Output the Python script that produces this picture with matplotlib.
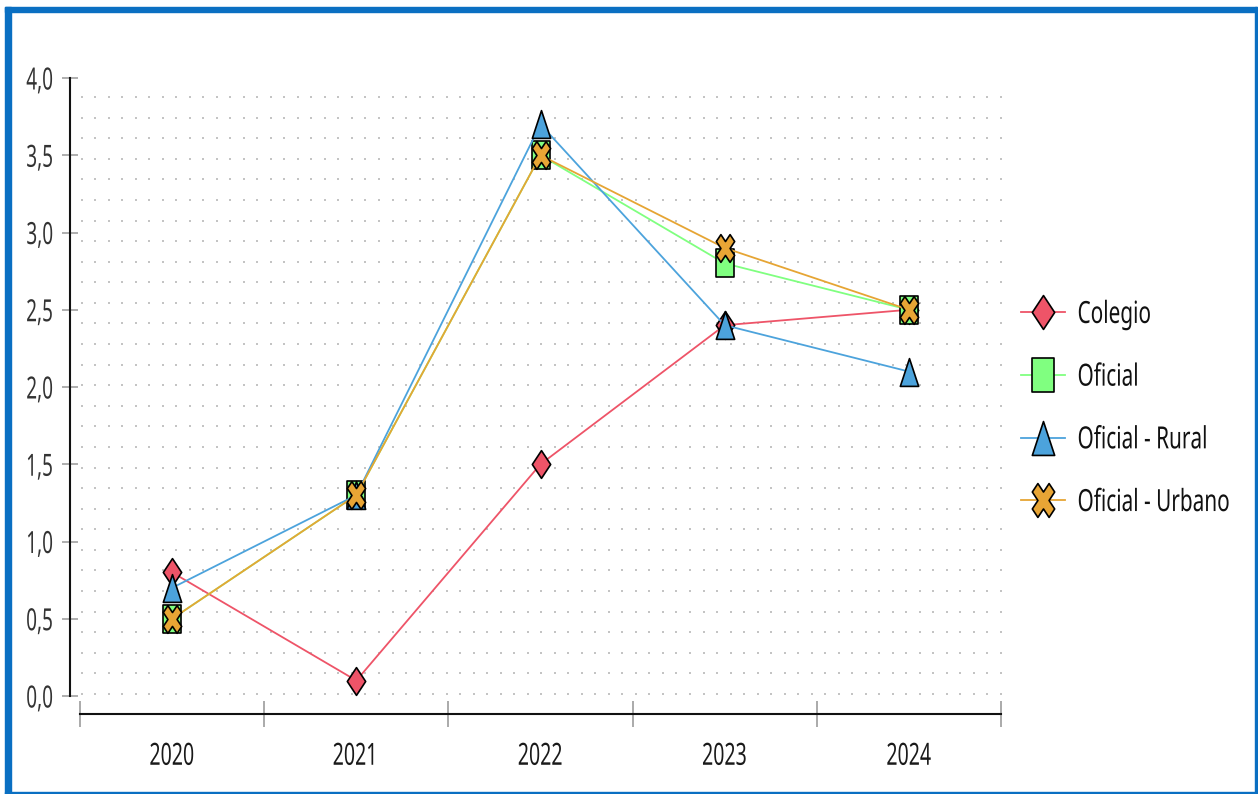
import numpy as np
import matplotlib
matplotlib.use('Agg')
import matplotlib.pyplot as plt
from matplotlib.path import Path
from matplotlib.patches import Rectangle
from matplotlib.patheffects import AbstractPathEffect
from matplotlib.transforms import Affine2D

# ---------------- data ----------------
years = ['2020', '2021', '2022', '2023', '2024']
colegio = [0.8, 0.1, 1.5, 2.4, 2.5]
oficial = [0.5, 1.3, 3.5, 2.8, 2.5]
oficial_rural = [0.7, 1.3, 3.7, 2.4, 2.1]
oficial_urbano = [0.5, 1.3, 3.5, 2.9, 2.5]
series_names = ['Colegio', 'Oficial', 'Oficial - Rural', 'Oficial - Urbano']
y_ticks = [0.0, 0.5, 1.0, 1.5, 2.0, 2.5, 3.0, 3.5, 4.0]
y_tick_labels = ['0,0', '0,5', '1,0', '1,5', '2,0', '2,5', '3,0', '3,5', '4,0']

# ---------------- style ----------------
plt.rcParams['font.family'] = ['Noto Sans', 'DejaVu Sans']
line_colors = ['#EE5468', '#80FF80', '#4CA3DC', '#E6A534']
fill_colors = ['#EE5468', '#80FF80', '#4CA3DC', '#E8A535']
K = 0.66  # horizontal squeeze of markers


class Squeeze(AbstractPathEffect):
    """Draw text horizontally condensed (the reference uses a narrow font)."""

    def __init__(self, k, anchor='left'):
        super().__init__()
        self.k = k
        self.anchor = anchor

    def draw_path(self, renderer, gc, tpath, affine, rgbFace=None):
        v = tpath.vertices
        if len(v):
            x0, x1 = v[:, 0].min(), v[:, 0].max()
        else:
            x0 = x1 = 0.0
        a = {'left': 0.0, 'center': 0.5 * (x0 + x1), 'right': x1}[self.anchor]
        t = Affine2D().translate(-a, 0).scale(self.k, 1).translate(a, 0) + affine
        renderer.draw_path(gc, tpath, t, rgbFace)


def closed(verts):
    verts = list(verts) + [verts[0]]
    codes = [Path.MOVETO] + [Path.LINETO] * (len(verts) - 2) + [Path.CLOSEPOLY]
    return Path(verts, codes)


diamond = closed([(0, 1), (K, 0), (0, -1), (-K, 0)])
square = closed([(-K, -1), (K, -1), (K, 1), (-K, 1)])
triangle = closed([(0, 1), (K, -1), (-K, -1)])
plus = np.array([(-1, -3), (-1, -1), (-3, -1), (-3, 1), (-1, 1), (-1, 3),
                 (1, 3), (1, 1), (3, 1), (3, -1), (1, -1), (1, -3)], float)
c, s = np.cos(np.pi / 4), np.sin(np.pi / 4)
xrot = np.column_stack([plus[:, 0] * c - plus[:, 1] * s, plus[:, 0] * s + plus[:, 1] * c])
xrot = xrot / np.abs(xrot[:, 1]).max()
xrot[:, 0] *= K
xmark = closed([tuple(v) for v in xrot])
markers = [diamond, square, triangle, xmark]

W, H = 1258, 794
fig = plt.figure(figsize=(W / 100, H / 100), dpi=100)
fig.patch.set_facecolor('white')

ax_l, ax_r, ax_b, ax_t = 80, 1001, 714, 78
ax = fig.add_axes([ax_l / W, 1 - ax_b / H, (ax_r - ax_l) / W, (ax_b - ax_t) / H])
ppu = (696 - 78) / 4.0
ymin = -(714 - 696) / ppu
ax.set_xlim(-0.5, 4.5)
ax.set_ylim(ymin, 4.0)

# dotted background grid (decoration)
gx = np.linspace(-0.5 + 1.5 / 184.2, 4.5, 69)
gy = np.linspace((696 - 694) / ppu, (696 - 97) / ppu, 30)
GX, GY = np.meshgrid(gx, gy)
ax.scatter(GX.ravel(), GY.ravel(), s=4.0, marker='s', color='#c4c4c4', linewidths=0, zorder=0)

xpos = np.arange(len(years))
all_series = [colegio, oficial, oficial_rural, oficial_urbano]
for i, (vals, name) in enumerate(zip(all_series, series_names)):
    ax.plot(xpos, vals, color=line_colors[i], lw=1.3, marker=markers[i], markersize=20,
            markerfacecolor=fill_colors[i], markeredgecolor='black', markeredgewidth=1.2,
            label=name, zorder=3 + i)

# spines
for sp in ['top', 'right']:
    ax.spines[sp].set_visible(False)
ax.spines['left'].set_position(('outward', 7.2))
ax.spines['left'].set_bounds(0, 4)
ax.spines['left'].set_linewidth(1.5)
ax.spines['bottom'].set_linewidth(1.5)
ax.spines['left'].set_color('#111111')
ax.spines['bottom'].set_color('#111111')

ax.set_yticks(y_ticks)
ax.set_yticklabels(y_tick_labels)
ax.tick_params(axis='y', direction='inout', length=11.5, width=1.1, color='#999999',
               labelsize=22, labelcolor='#333333', pad=6)

ax.set_xticks(xpos)
ax.set_xticklabels(years)
ax.tick_params(axis='x', which='major', length=0, labelsize=22, labelcolor='#1a1a1a', pad=20)
ax.set_xticks(np.arange(-0.5, 5.0, 1.0), minor=True)
ax.tick_params(axis='x', which='minor', direction='inout', length=19, width=1.4, color='#aaaaaa')

for lbl in ax.get_yticklabels():
    lbl.set_path_effects([Squeeze(0.62, 'right')])
for lbl in ax.get_xticklabels():
    lbl.set_path_effects([Squeeze(0.64, 'center')])

leg = fig.legend(loc='center left', bbox_to_anchor=(1021 / W, 1 - 409 / H), frameon=False,
                 fontsize=22, handlelength=1.45, handletextpad=0.4, labelspacing=1.07,
                 borderpad=0, borderaxespad=0, markerscale=1.22)
for t in leg.get_texts():
    t.set_path_effects([Squeeze(0.68, 'left')])
    t.set_color('#111111')

# blue frame
fc = '#0A6FC2'
fig.patches.append(Rectangle((5 / W, 0), 6 / W, 1 - 7 / H, transform=fig.transFigure, color=fc, zorder=10))
fig.patches.append(Rectangle((5 / W, 1 - 12 / H), 1 - 5 / W - 1 / W, 5 / H, transform=fig.transFigure, color=fc, zorder=10))
fig.patches.append(Rectangle((1 - 3 / W, 0), 2 / W, 1 - 7 / H, transform=fig.transFigure, color=fc, zorder=10))
fig.patches.append(Rectangle((5 / W, 0), 1 - 5 / W - 1 / W, 2.5 / H, transform=fig.transFigure, color=fc, zorder=10))

fig.savefig('out.png', dpi=100)
